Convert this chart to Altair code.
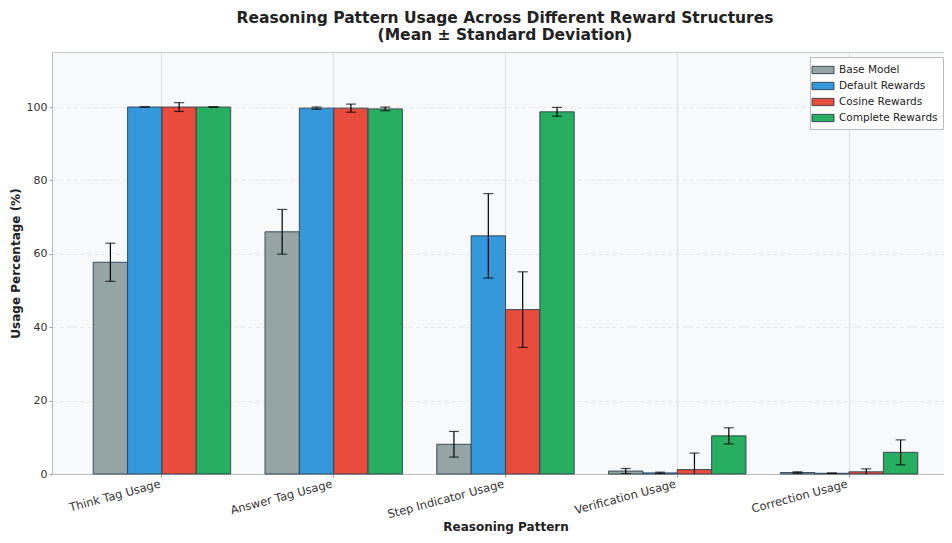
import altair as alt
import pandas as pd

categories = ["Think Tag Usage", "Answer Tag Usage", "Step Indicator Usage", "Verification Usage", "Correction Usage"]
models = ["Base Model", "Default Rewards", "Cosine Rewards", "Complete Rewards"]
colors = ["#95a5a6", "#3498db", "#e74c3c", "#27ae60"]

means = {
    "Base Model":       [57.7, 66.0, 8.1, 0.8, 0.4],
    "Default Rewards":  [100.0, 99.7, 64.9, 0.3, 0.2],
    "Cosine Rewards":   [100.0, 99.7, 44.8, 1.2, 0.6],
    "Complete Rewards": [100.0, 99.5, 98.7, 10.4, 5.9],
}
stds = {
    "Base Model":       [5.2, 6.1, 3.5, 0.7, 0.2],
    "Default Rewards":  [0.0, 0.3, 11.5, 0.2, 0.1],
    "Cosine Rewards":   [1.2, 1.1, 10.3, 4.5, 0.8],
    "Complete Rewards": [0.1, 0.5, 1.2, 2.2, 3.4],
}

rows = []
for m in models:
    for i, c in enumerate(categories):
        mu, sd = means[m][i], stds[m][i]
        rows.append({"pattern": c, "model": m, "mean": mu, "lo": mu - sd, "hi": mu + sd})
df = pd.DataFrame(rows)

xenc = alt.X("pattern:N", sort=categories,
             scale=alt.Scale(paddingInner=0.2, paddingOuter=0.24, range=[0, 907]),
             axis=alt.Axis(title="Reasoning Pattern", labelAngle=-15, labelAlign="right",
                           labelBaseline="top", labelFontSize=11.5, labelColor="#333",
                           titleFontSize=12, titleFontWeight="bold", titleColor="#222",
                           titlePadding=1, grid=True, gridColor="#dcdcdc", gridDash=[],
                           tickSize=3, tickColor="#999", domainColor="#bbb", labelPadding=1,
                           labelOffset=-3))
xoff = alt.XOffset("model:N", sort=models, scale=alt.Scale(paddingInner=0, paddingOuter=0))
ysc = alt.Scale(domain=[0, 115], nice=False)
yax = alt.Axis(title="Usage Percentage (%)", values=[0, 20, 40, 60, 80, 100], labelFontSize=11,
               labelColor="#333", titleFontSize=12, titleFontWeight="bold", titleColor="#222",
               gridColor="#e6e6e6", gridDash=[4, 3], tickSize=3, tickColor="#999",
               domainColor="#bbb", titlePadding=4)

bars = alt.Chart(df).mark_bar(stroke="#2c3e50", strokeWidth=0.9).encode(
    x=xenc, xOffset=xoff,
    y=alt.Y("mean:Q", scale=ysc, axis=yax),
    color=alt.Color("model:N", sort=models, scale=alt.Scale(domain=models, range=colors),
                    legend=alt.Legend(title=None, orient="none", legendX=758, legendY=5,
                                      labelFontSize=10.5, labelColor="#222",
                                      symbolType="M-1.5,-0.5L1.5,-0.5L1.5,0.5L-1.5,0.5Z",
                                      symbolSize=215, symbolStrokeColor="#2c3e50",
                                      symbolStrokeWidth=0.9, symbolOpacity=1,
                                      rowPadding=2, padding=5, fillColor="white",
                                      strokeColor="#bbb", labelOffset=8)),
)

err = alt.Chart(df).mark_rule(color="black", strokeWidth=1.2, clip=True).encode(
    x=alt.X("pattern:N", sort=categories), xOffset=alt.XOffset("model:N", sort=models),
    y=alt.Y("lo:Q", scale=ysc), y2="hi:Q")
cap_lo = alt.Chart(df).mark_tick(color="black", thickness=1.2, size=10, orient="horizontal", clip=True).encode(
    x=alt.X("pattern:N", sort=categories), xOffset=alt.XOffset("model:N", sort=models),
    y=alt.Y("lo:Q", scale=ysc))
cap_hi = alt.Chart(df).mark_tick(color="black", thickness=1.2, size=10, orient="horizontal", clip=True).encode(
    x=alt.X("pattern:N", sort=categories), xOffset=alt.XOffset("model:N", sort=models),
    y=alt.Y("hi:Q", scale=ysc))

chart = alt.layer(bars, err, cap_lo, cap_hi).properties(
    width=892, height=422,
    autosize=alt.AutoSizeParams(type="none"),
    padding={"left": 44, "top": 44, "right": 0, "bottom": 60},
    title=alt.TitleParams(["Reasoning Pattern Usage Across Different Reward Structures",
                           "(Mean ± Standard Deviation)"],
                          fontSize=15.5, fontWeight="bold", color="#222", anchor="middle",
                          offset=9, lineHeight=17, dx=7, font="DejaVu Sans"),
).configure(font="DejaVu Sans", background="white").configure_view(
    fill="#f8f9fa", stroke="#cccccc", strokeWidth=1)

chart.save("out.html", embed_options={"renderer": "svg", "actions": False})
